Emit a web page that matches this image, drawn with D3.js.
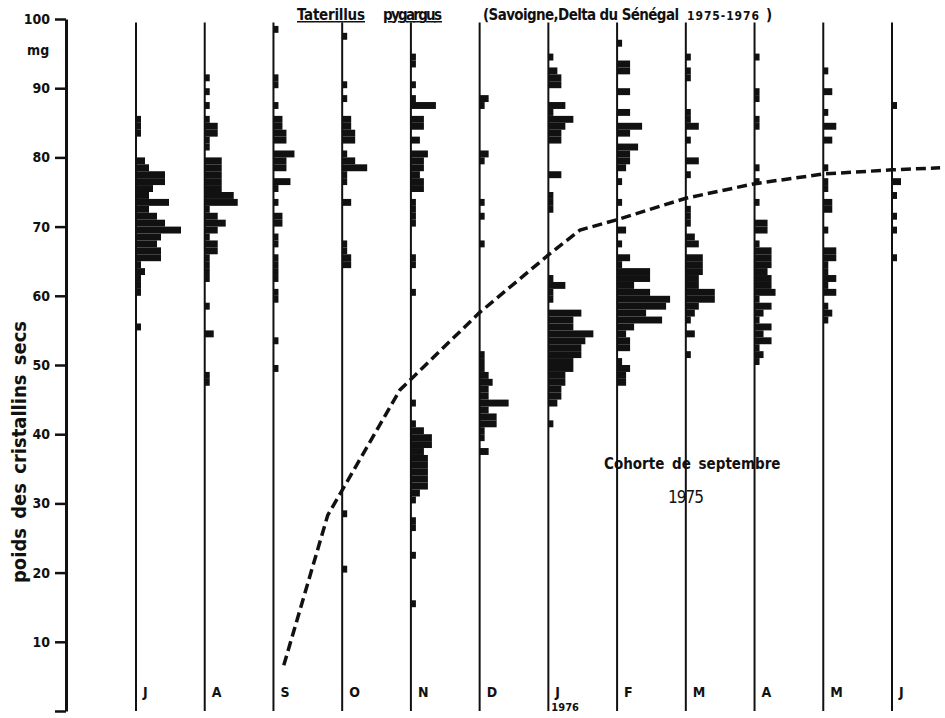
<!DOCTYPE html>
<html>
<head>
<meta charset="utf-8">
<script src="https://cdn.jsdelivr.net/npm/d3@7"></script>
<style>
  body { margin: 0; background: #fff; }
  svg text { font-family: 'Liberation Sans Narrow', 'DejaVu Sans Condensed', 'Roboto Condensed', sans-serif; font-weight: bold; fill: #111; }
</style>
</head>
<body>
<svg id="chart" width="945" height="718"></svg>
<script>
// months along the bottom (July 1975 -> June 1976)
const months = ['J', 'A', 'S', 'O', 'N', 'D', 'J', 'F', 'M', 'A', 'M', 'J']
const yTicks = [0, 10, 20, 30, 40, 50, 60, 70, 80, 90, 100]

// histograms: [weight class (mg), number of individuals]
const julData = [[55,1],[60,1],[61,1],[62,1],[63,2],[64,1],[65,6],[66,6],[67,5],[68,6],[69,11],[70,7],[71,5],[72,3],[73,8],[74,3],[75,4],[76,7],[77,7],[78,3],[79,2],[83,1],[84,1],[85,1]]
const augData = [[47,1],[48,1],[54,2],[58,1],[62,1],[63,1],[64,1],[65,1],[66,3],[67,3],[68,1],[69,3],[70,5],[71,3],[72,1],[73,8],[74,7],[75,4],[76,4],[77,4],[78,4],[79,4],[81,1],[82,1],[83,3],[84,3],[85,1],[87,1],[89,1],[91,1]]
const sepData = [[49,1],[53,1],[59,1],[60,1],[62,1],[63,1],[64,1],[65,1],[67,1],[68,1],[70,2],[71,2],[73,1],[75,1],[76,4],[78,3],[79,3],[80,5],[82,3],[83,3],[84,2],[85,2],[87,1],[90,1],[91,1],[98,1]]
const octData = [[20,1],[28,1],[64,2],[65,2],[66,1],[67,1],[73,2],[76,1],[77,1],[78,6],[79,3],[80,1],[82,3],[83,3],[84,2],[85,2],[88,1],[90,1],[97,1]]
const novData = [[15,1],[22,1],[26,1],[27,1],[30,1],[31,2],[32,4],[33,4],[34,4],[35,4],[36,4],[37,3],[38,5],[39,5],[40,3],[41,1],[44,1],[60,1],[64,1],[65,1],[70,1],[71,1],[72,1],[73,1],[75,3],[76,3],[77,2],[78,3],[79,3],[80,4],[82,2],[84,3],[85,3],[87,6],[88,1],[90,1],[93,1],[94,1]]
const decData = [[37,2],[39,1],[40,1],[41,4],[42,4],[43,2],[44,7],[45,2],[46,2],[47,3],[48,2],[49,1],[50,1],[51,1],[67,1],[71,1],[73,1],[79,1],[80,2],[87,1],[88,2]]
const janData = [[41,1],[44,2],[45,3],[46,3],[47,4],[48,4],[49,6],[50,6],[51,8],[52,8],[53,9],[54,11],[55,6],[56,6],[57,8],[59,1],[60,1],[61,4],[62,1],[72,1],[73,1],[74,1],[77,3],[82,3],[83,3],[84,4],[85,6],[86,1],[87,4],[90,3],[91,3],[92,2],[94,1]]
const febData = [[47,2],[48,2],[49,3],[50,1],[52,3],[53,3],[54,2],[55,4],[56,11],[57,7],[58,12],[59,13],[60,8],[61,4],[62,8],[63,8],[64,1],[65,3],[67,1],[69,2],[73,1],[76,1],[78,2],[79,3],[80,3],[81,5],[83,3],[84,6],[86,3],[89,3],[92,3],[93,3],[96,1]]
const marData = [[51,1],[54,2],[56,1],[57,2],[58,3],[59,7],[60,7],[61,3],[62,3],[63,4],[64,4],[65,4],[67,3],[68,2],[70,1],[71,1],[72,1],[77,1],[79,3],[82,1],[84,3],[85,1],[86,1],[91,1],[92,1],[94,1]]
const aprData = [[50,1],[51,2],[52,1],[53,4],[54,2],[55,4],[56,1],[57,2],[58,4],[59,1],[60,5],[61,4],[62,4],[63,3],[64,4],[65,4],[66,4],[67,1],[69,3],[70,3],[73,1],[76,1],[78,1],[84,1],[85,1],[88,1],[89,1],[94,1]]
const mayData = [[56,1],[57,2],[58,1],[60,3],[61,1],[62,3],[63,1],[64,1],[65,3],[66,3],[69,1],[72,2],[73,2],[75,1],[76,1],[78,1],[82,2],[84,3],[86,1],[89,2],[92,1]]
const junData = [[65,1],[69,1],[71,1],[74,1],[76,2],[87,1]]
const histos = [julData, augData, sepData, octData, novData, decData, janData, febData, marData, aprData, mayData, junData]

// growth of the September 1975 cohort: [month index from July 1975, weight mg]
const cohortCurve = [[2.15,6.6],[2.79,28.3],[3.84,46.4],[4.99,57.5],[6.0,65.9],[6.46,69.5],[7.0,71.0],[8.0,74.1],[9.0,76.2],[10.0,77.6],[11.0,78.2],[11.7,78.5]]

const svg = d3.select('#chart')

const y = d3.scaleLinear().domain([0, 100]).range([711, 19])
const t = d3.scaleLinear().domain([0, 11]).range([136, 892])
const count = d3.scaleLinear().domain([0, 1]).range([0, 4])

// y axis
const yAxis = svg.append('g')
    .attr('transform', 'translate(66,0)')
    .call(d3.axisLeft(y).tickValues(yTicks).tickSize(11).tickSizeOuter(0).tickPadding(5)
        .tickFormat(d => d === 0 ? '' : d))
yAxis.select('.domain').attr('stroke', '#111').attr('stroke-width', 3)
yAxis.selectAll('.tick line').attr('stroke', '#111').attr('stroke-width', 2.5)
yAxis.selectAll('.tick text').style('font-size', '14px')

svg.append('text').attr('x', 27).attr('y', 55).style('font-size', '14px').text('mg')

svg.append('text')
    .attr('transform', 'translate(26,452) rotate(-90)')
    .attr('text-anchor', 'middle')
    .style('font-size', '20px')
    .style('word-spacing', '3px')
    .text('poids des cristallins secs')

// month columns
const cols = svg.selectAll('g.month').data(histos).enter().append('g')
    .attr('class', 'month')
    .attr('transform', (d, i) => `translate(${t(i)},0)`)

cols.append('line')
    .attr('y1', y(99.5)).attr('y2', y(0))
    .attr('stroke', '#111').attr('stroke-width', 2)

cols.selectAll('rect').data(d => d).enter().append('rect')
    .attr('x', 0)
    .attr('y', d => y(d[0] + 1))
    .attr('width', d => count(d[1]) + 1)
    .attr('height', d => y(d[0]) - y(d[0] + 1))
    .attr('fill', '#111')

cols.append('text')
    .attr('x', 7).attr('y', 697)
    .style('font-size', '14px')
    .text((d, i) => months[i])

svg.append('text').attr('x', t(6) + 3).attr('y', 711).style('font-size', '11px').text('1976')

// cohort curve
svg.append('path')
    .datum(cohortCurve)
    .attr('d', d3.line().x(d => t(d[0])).y(d => y(d[1])))
    .attr('fill', 'none')
    .attr('stroke', '#111')
    .attr('stroke-width', 3.5)
    .attr('stroke-dasharray', '10,5')

// titles
const title = svg.append('text').attr('y', 20).style('font-size', '15px')
title.append('tspan').attr('x', 297).attr('text-decoration', 'underline').attr('textLength', 68).text('Taterillus')
title.append('tspan').attr('x', 383).attr('text-decoration', 'underline').attr('textLength', 59).text('pygargus')
title.append('tspan').attr('x', 483).attr('textLength', 196).text('(Savoigne,Delta du Sénégal')
title.append('tspan').attr('x', 687).style('font-size', '12px').attr('textLength', 72).text('1975-1976')
title.append('tspan').attr('x', 766).text(')')

svg.append('text').attr('x', 604).attr('y', 469).style('font-size', '15px').style('word-spacing', '3px').text('Cohorte de septembre')
svg.append('text').attr('x', 668).attr('y', 503).style('font-size', '17px').style('font-weight', 'normal').attr('textLength', 36).text('1975')
</script>
</body>
</html>
